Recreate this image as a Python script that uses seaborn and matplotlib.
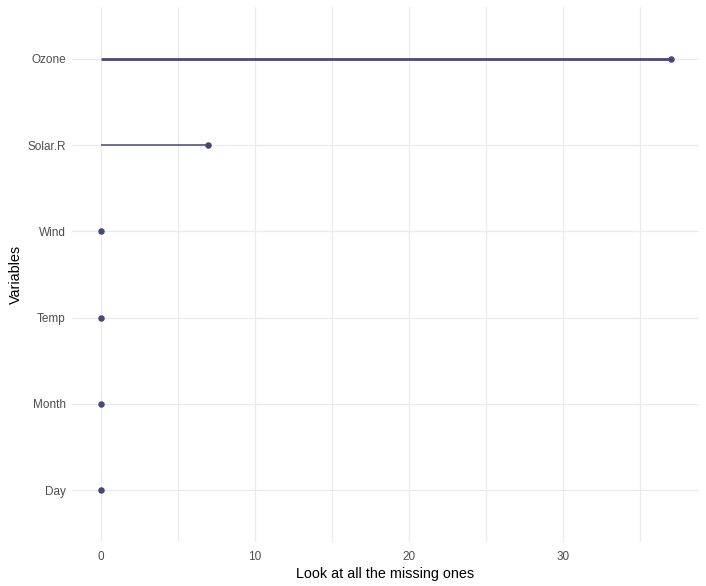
import matplotlib
matplotlib.use("Agg")
import matplotlib.pyplot as plt
import seaborn as sns
import pandas as pd
from matplotlib.ticker import MultipleLocator

variables = ["Ozone", "Solar.R", "Wind", "Temp", "Month", "Day"]
n_missing = [37, 7, 0, 0, 0, 0]

df = pd.DataFrame({"variable": variables, "n_miss": n_missing})

sns.set_theme(style="whitegrid")
plt.rcParams["font.family"] = ["Liberation Sans", "DejaVu Sans"]

col = "#484878"
fig = plt.figure(figsize=(7.06, 5.86), dpi=100)
ax = fig.add_axes([72/706, 1 - 542/586, (699-72)/706, (542-7)/586])

ypos = list(range(len(variables)))
widths = [2.0 if v > 20 else 1.1 for v in n_missing]
for y, v, w in zip(ypos, n_missing, widths):
    ax.hlines(y, 0, v, color=col, linewidth=w, zorder=2)
sns.scatterplot(data=df, x="n_miss", y="variable", color=col, s=22,
                edgecolor=col, linewidth=0, ax=ax, zorder=3)

ax.set_xlim(-1.85, 38.85)
ax.set_ylim(len(variables) - 1 + 0.6, -0.6)
ax.xaxis.set_major_locator(MultipleLocator(10))
ax.xaxis.set_minor_locator(MultipleLocator(5))
ax.grid(which="major", color="#ebebeb", linewidth=0.9)
ax.grid(which="minor", axis="x", color="#ebebeb", linewidth=0.9)
ax.set_facecolor("white")
for s in ax.spines.values():
    s.set_visible(False)
ax.tick_params(axis="both", which="both", length=0, labelsize=8.5, labelcolor="#4d4d4d")
ax.tick_params(axis="x", pad=6.5)
ax.tick_params(axis="y", pad=4.3)
ax.set_xlabel("Look at all the missing ones", fontsize=10.4, color="black", labelpad=3)
ax.set_ylabel("Variables", fontsize=10.4, color="black", labelpad=3)

fig.savefig("out.png", dpi=100, facecolor="white")
